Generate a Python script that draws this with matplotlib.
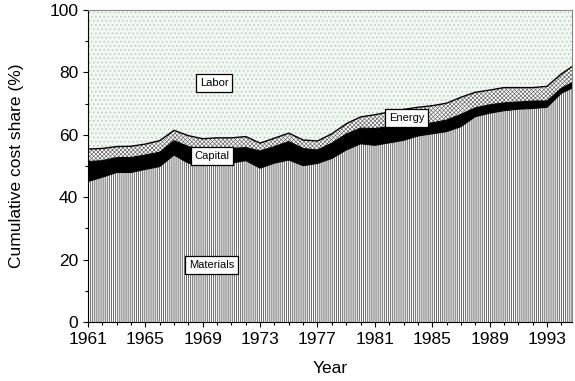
import numpy as np
import matplotlib
matplotlib.use("Agg")
import matplotlib.pyplot as plt
from matplotlib.ticker import MultipleLocator

plt.rcParams['font.family'] = ['Liberation Sans', 'DejaVu Sans']

# cost shares (%)
years = list(range(1961, 1996))
materials = [45.0, 46.4, 47.9, 47.9, 48.9, 49.8, 53.5, 50.9, 50.1, 50.9,
             50.9, 51.7, 49.3, 50.9, 51.9, 50.1, 50.8, 52.4, 55.1, 57.1,
             56.6, 57.4, 58.2, 59.6, 60.3, 61.0, 62.6, 65.8, 66.9, 67.7,
             68.2, 68.4, 68.8, 73.3, 75.5]
capital = [6.4, 5.3, 4.8, 4.8, 4.6, 4.6, 4.6, 5.3, 5.2, 4.6,
           4.7, 4.2, 5.5, 5.3, 5.9, 5.5, 4.3, 4.9, 5.1, 5.0,
           5.4, 5.2, 4.0, 3.5, 3.5, 3.7, 3.9, 2.8, 2.7, 2.5,
           2.3, 2.4, 2.0, 1.6, 1.8]
energy = [4.0, 3.9, 3.5, 3.6, 3.5, 3.7, 3.3, 3.5, 3.4, 3.5,
          3.4, 3.5, 2.5, 2.7, 2.7, 2.7, 2.9, 3.0, 3.3, 3.6,
          4.4, 4.7, 5.9, 5.7, 5.5, 5.4, 5.5, 5.0, 4.7, 4.9,
          4.6, 4.3, 4.7, 4.6, 5.3]
labor = [44.6, 44.4, 43.8, 43.7, 43.0, 41.9, 38.6, 40.3, 41.3, 41.0,
         41.0, 40.6, 42.7, 41.1, 39.5, 41.7, 42.0, 39.7, 36.5, 34.3,
         33.6, 32.7, 31.9, 31.2, 30.7, 29.9, 28.0, 26.4, 25.7, 24.9,
         24.9, 24.9, 24.5, 20.5, 17.4]

x = np.array(years)
m = np.array(materials)
c = m + np.array(capital)
e = c + np.array(energy)
l = e + np.array(labor)

fig = plt.figure(figsize=(5.75, 3.81), dpi=100)
ax = fig.add_axes([0.153, 0.155, 0.842, 0.819])

plt.rcParams['hatch.linewidth'] = 0.7
with plt.rc_context({'hatch.color': '#666666'}):
    ax.fill_between(x, 0, m, facecolor='white', edgecolor='#666666',
                    hatch='|' * 8, linewidth=0)
ax.fill_between(x, m, c, facecolor='black', linewidth=0)
with plt.rc_context({'hatch.color': '#6a6a6a', 'hatch.linewidth': 0.5}):
    ax.fill_between(x, c, e, facecolor='white', edgecolor='#6a6a6a',
                    hatch='x' * 8, linewidth=0)
with plt.rc_context({'hatch.color': '#b5d6b5'}):
    ax.fill_between(x, e, l, facecolor='#f3f7f3', edgecolor='#b5d6b5',
                    hatch='.' * 4, linewidth=0)
ax.plot(x, e, color='black', lw=1)
ax.plot(x, c, color='black', lw=0.8)
ax.plot(x, m, color='black', lw=0.8)

box = dict(boxstyle='square,pad=0.35', facecolor='white', edgecolor='black', lw=0.9)
ax.text(1969.8, 76.6, 'Labor', fontsize=8, ha='center', va='center', bbox=box)
ax.text(1969.65, 53.2, 'Capital', fontsize=8, ha='center', va='center', bbox=box)
ax.text(1983.2, 65.3, 'Energy', fontsize=8, ha='center', va='center', bbox=box)
ax.text(1969.6, 18.3, 'Materials', fontsize=8, ha='center', va='center', bbox=box)

ax.set_xlim(1961, 1994.75)
ax.set_ylim(0, 100)
ax.set_xticks(range(1961, 1995, 4))
ax.xaxis.set_minor_locator(MultipleLocator(1))
ax.yaxis.set_major_locator(MultipleLocator(20))
ax.yaxis.set_minor_locator(MultipleLocator(10))
ax.tick_params(which='major', length=3.5, width=0.8, labelsize=12.5, direction='out')
ax.tick_params(which='minor', length=2.2, width=0.8, direction='out')
ax.spines['top'].set_color('#888888')
ax.spines['right'].set_color('#888888')

ax.set_xlabel('Year', fontsize=12.5, labelpad=10)
ax.set_ylabel('Cumulative cost share (%)', fontsize=12.5, labelpad=18)

fig.savefig('out.png', dpi=100)
